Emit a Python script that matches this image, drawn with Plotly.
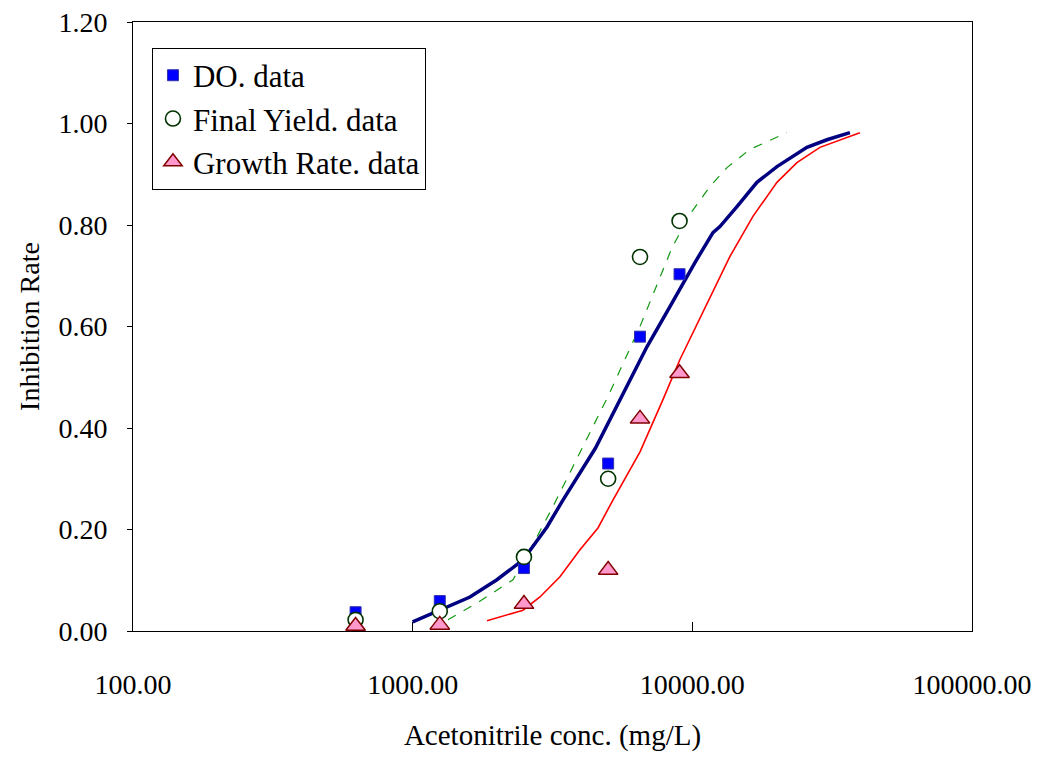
import plotly.graph_objects as go

# measured data points
conc = [625, 1250, 2500, 5000, 6500, 9000]
do_data = [0.037, 0.059, 0.124, 0.330, 0.580, 0.703]
fy_data = [0.022, 0.039, 0.146, 0.300, 0.737, 0.808]
gr_data = [0.010, 0.012, 0.053, 0.120, 0.418, 0.508]

# fitted curves
do_fit_x = [1000, 1252, 1603, 2001, 2480, 3022, 3446, 4500, 5510, 6881, 8317, 10216, 11850, 12550, 14440, 17020, 20070, 25690, 30290, 36600]
do_fit_y = [0.018, 0.041, 0.067, 0.101, 0.140, 0.205, 0.258, 0.360, 0.456, 0.560, 0.639, 0.726, 0.785, 0.797, 0.836, 0.884, 0.915, 0.953, 0.968, 0.982]

fy_fit_x = [1337, 1698, 2284, 2627, 3174, 4992, 6500, 8455, 9804, 11560, 13300, 16070, 21790]
fy_fit_y = [0.022, 0.055, 0.101, 0.160, 0.245, 0.462, 0.600, 0.755, 0.821, 0.876, 0.913, 0.949, 0.982]

gr_fit_x = [1844, 2480, 2852, 3362, 3965, 4598, 5201, 6500, 7851, 9030, 13630, 16470, 20070, 23660, 28590, 33710, 39730]
gr_fit_y = [0.020, 0.041, 0.067, 0.107, 0.160, 0.203, 0.258, 0.353, 0.456, 0.535, 0.738, 0.817, 0.884, 0.923, 0.953, 0.968, 0.982]

x_ticks = [100, 1000, 10000, 100000]
x_ticktext = ["100.00", "1000.00", "10000.00", "100000.00"]

FONT = "Liberation Serif, Times New Roman, serif"

fig = go.Figure()
fig.add_trace(go.Scatter(x=fy_fit_x, y=fy_fit_y, mode="lines", showlegend=False,
                         line=dict(color="#119911", width=1.2, dash="dash")))
fig.add_trace(go.Scatter(x=gr_fit_x, y=gr_fit_y, mode="lines", showlegend=False,
                         line=dict(color="#FF0000", width=1.6)))
fig.add_trace(go.Scatter(x=do_fit_x, y=do_fit_y, mode="lines", showlegend=False,
                         line=dict(color="#000080", width=3.5)))
fig.add_trace(go.Scatter(x=conc, y=do_data, mode="markers", name="DO. data",
                         marker=dict(symbol="square", size=11, color="#0000FF",
                                     line=dict(color="#3333AA", width=1))))
fig.add_trace(go.Scatter(x=conc, y=fy_data, mode="markers", name="Final Yield. data",
                         marker=dict(symbol="circle", size=15, color="white",
                                     line=dict(color="#003300", width=1.6))))
fig.add_trace(go.Scatter(x=conc, y=gr_data, mode="markers", name="Growth Rate. data",
                         marker=dict(symbol="triangle-up", size=17, color="#FF99CC",
                                     line=dict(color="#800000", width=1.5))))

fig.update_layout(
    width=1038, height=758,
    margin=dict(l=133, r=66, t=22, b=127),
    paper_bgcolor="white", plot_bgcolor="white",
    font=dict(family=FONT, color="black", size=27),
    legend=dict(x=0.0226, y=0.958, xanchor="left", yanchor="top",
                bordercolor="black", borderwidth=1, bgcolor="white",
                font=dict(family=FONT, size=31), tracegroupgap=0,
                itemwidth=30),
    xaxis=dict(type="log", range=[2, 5], tickvals=x_ticks, ticktext=x_ticktext,
               ticks="inside", ticklen=9, tickcolor="black", automargin=False,
               showline=True, linecolor="black", linewidth=1, mirror=True,
               showgrid=False, zeroline=False, ticklabelstandoff=28,
               tickfont=dict(family=FONT, size=28),
               title=dict(text="Acetonitrile conc. (mg/L)", standoff=26,
                          font=dict(family=FONT, size=29))),
    yaxis=dict(range=[0, 1.2], dtick=0.2, tick0=0, tickformat=".2f",
               ticks="outside", ticklen=5, tickcolor="black", automargin=False,
               showline=True, linecolor="black", linewidth=1, mirror=True,
               showgrid=False, zeroline=False, ticklabelstandoff=14,
               tickfont=dict(family=FONT, size=28),
               title=dict(text="Inhibition Rate", standoff=10,
                          font=dict(family=FONT, size=28))),
)

fig.write_html("out.html")
